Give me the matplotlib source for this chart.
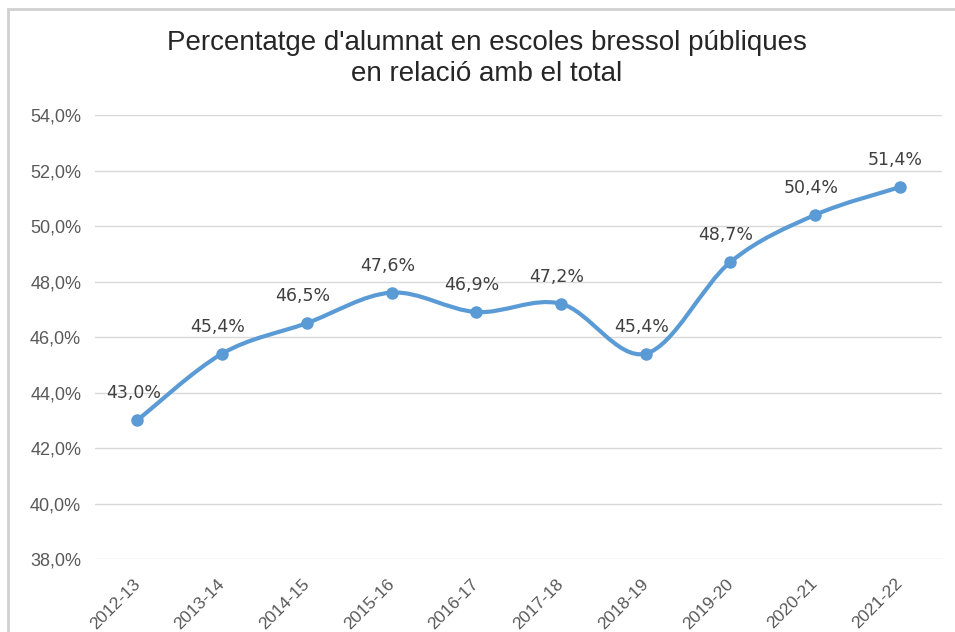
import matplotlib
matplotlib.use("Agg")
import matplotlib.pyplot as plt
import matplotlib.transforms as mtransforms
from matplotlib.path import Path
from matplotlib.patches import PathPatch, Rectangle
from matplotlib.ticker import FuncFormatter

# data
cursos = ['2012-13', '2013-14', '2014-15', '2015-16', '2016-17',
          '2017-18', '2018-19', '2019-20', '2020-21', '2021-22']
percentatge = [43.0, 45.4, 46.5, 47.6, 46.9, 47.2, 45.4, 48.7, 50.4, 51.4]

plt.rcParams['font.family'] = ['Liberation Sans', 'DejaVu Sans']

color_linia = '#5B9BD5'


def smooth_path(xs, ys):
    """ Excel-like smoothed line as a bezier path """
    verts = [(xs[0], ys[0])]
    codes = [Path.MOVETO]
    n = len(xs)
    for i in range(n - 1):
        x0, y0 = (xs[i - 1], ys[i - 1]) if i > 0 else (xs[i], ys[i])
        x1, y1 = xs[i], ys[i]
        x2, y2 = xs[i + 1], ys[i + 1]
        x3, y3 = (xs[i + 2], ys[i + 2]) if i + 2 < n else (x2, y2)
        c1 = (x1 + (x2 - x0) / 6, y1 + (y2 - y0) / 6)
        c2 = (x2 - (x3 - x1) / 6, y2 - (y3 - y1) / 6)
        verts += [c1, c2, (x2, y2)]
        codes += [Path.CURVE4] * 3
    return Path(verts, codes)


fig = plt.figure(figsize=(9.55, 6.32), dpi=100)
# chart border (only top and left edges visible in the original crop)
fig.patches.append(Rectangle((0.008, -0.05), 1.1, 1.036, transform=fig.transFigure,
                             fill=False, edgecolor='#D0D0D0', linewidth=2))

ax = fig.add_axes([0.0995, 0.1155, 0.887, 0.7025])
pos = list(range(len(cursos)))

ax.add_patch(PathPatch(smooth_path(pos, percentatge), fill=False,
                       edgecolor=color_linia, linewidth=3, capstyle='round', zorder=3))
ax.plot(pos, percentatge, linestyle='none', marker='o', markersize=8,
        color=color_linia, zorder=4)

# data labels
for x, v in zip(pos, percentatge):
    ax.annotate(f'{v:.1f}%'.replace('.', ','), (x, v), xytext=(-3, 13),
                textcoords='offset points', ha='center', va='bottom',
                fontsize=12.5, color='#404040', family=['DejaVu Sans'])

ax.set_xlim(-0.5, len(cursos) - 0.5)
ax.set_ylim(38, 54)
ax.set_yticks(range(38, 55, 2))
ax.yaxis.set_major_formatter(FuncFormatter(lambda v, p: f'{v:.1f}%'.replace('.', ',')))
ax.set_xticks(pos)

ax.grid(axis='y', color='#D9D9D9', linewidth=1)
ax.set_axisbelow(True)
for s in ax.spines.values():
    s.set_visible(False)
ax.tick_params(length=0, labelsize=13, labelcolor='#595959', pad=10)
ax.tick_params(axis='x', labelsize=12.5, pad=0)

# rotated year labels, nudged to where Excel puts them
ax.set_xticklabels(cursos, rotation=45, ha='right', va='top', rotation_mode='anchor')
shift = mtransforms.ScaledTranslation(-5 / 100, -17 / 100, fig.dpi_scale_trans)
for lab in ax.get_xticklabels():
    lab.set_transform(lab.get_transform() + shift)

fig.text(0.51, 1 - 50 / 632, "Percentatge d'alumnat en escoles bressol públiques",
         ha='center', va='baseline', fontsize=20, color='#262626')
fig.text(0.51, 1 - 81 / 632, "en relació amb el total",
         ha='center', va='baseline', fontsize=20, color='#262626')

fig.savefig('out.png', dpi=100)
